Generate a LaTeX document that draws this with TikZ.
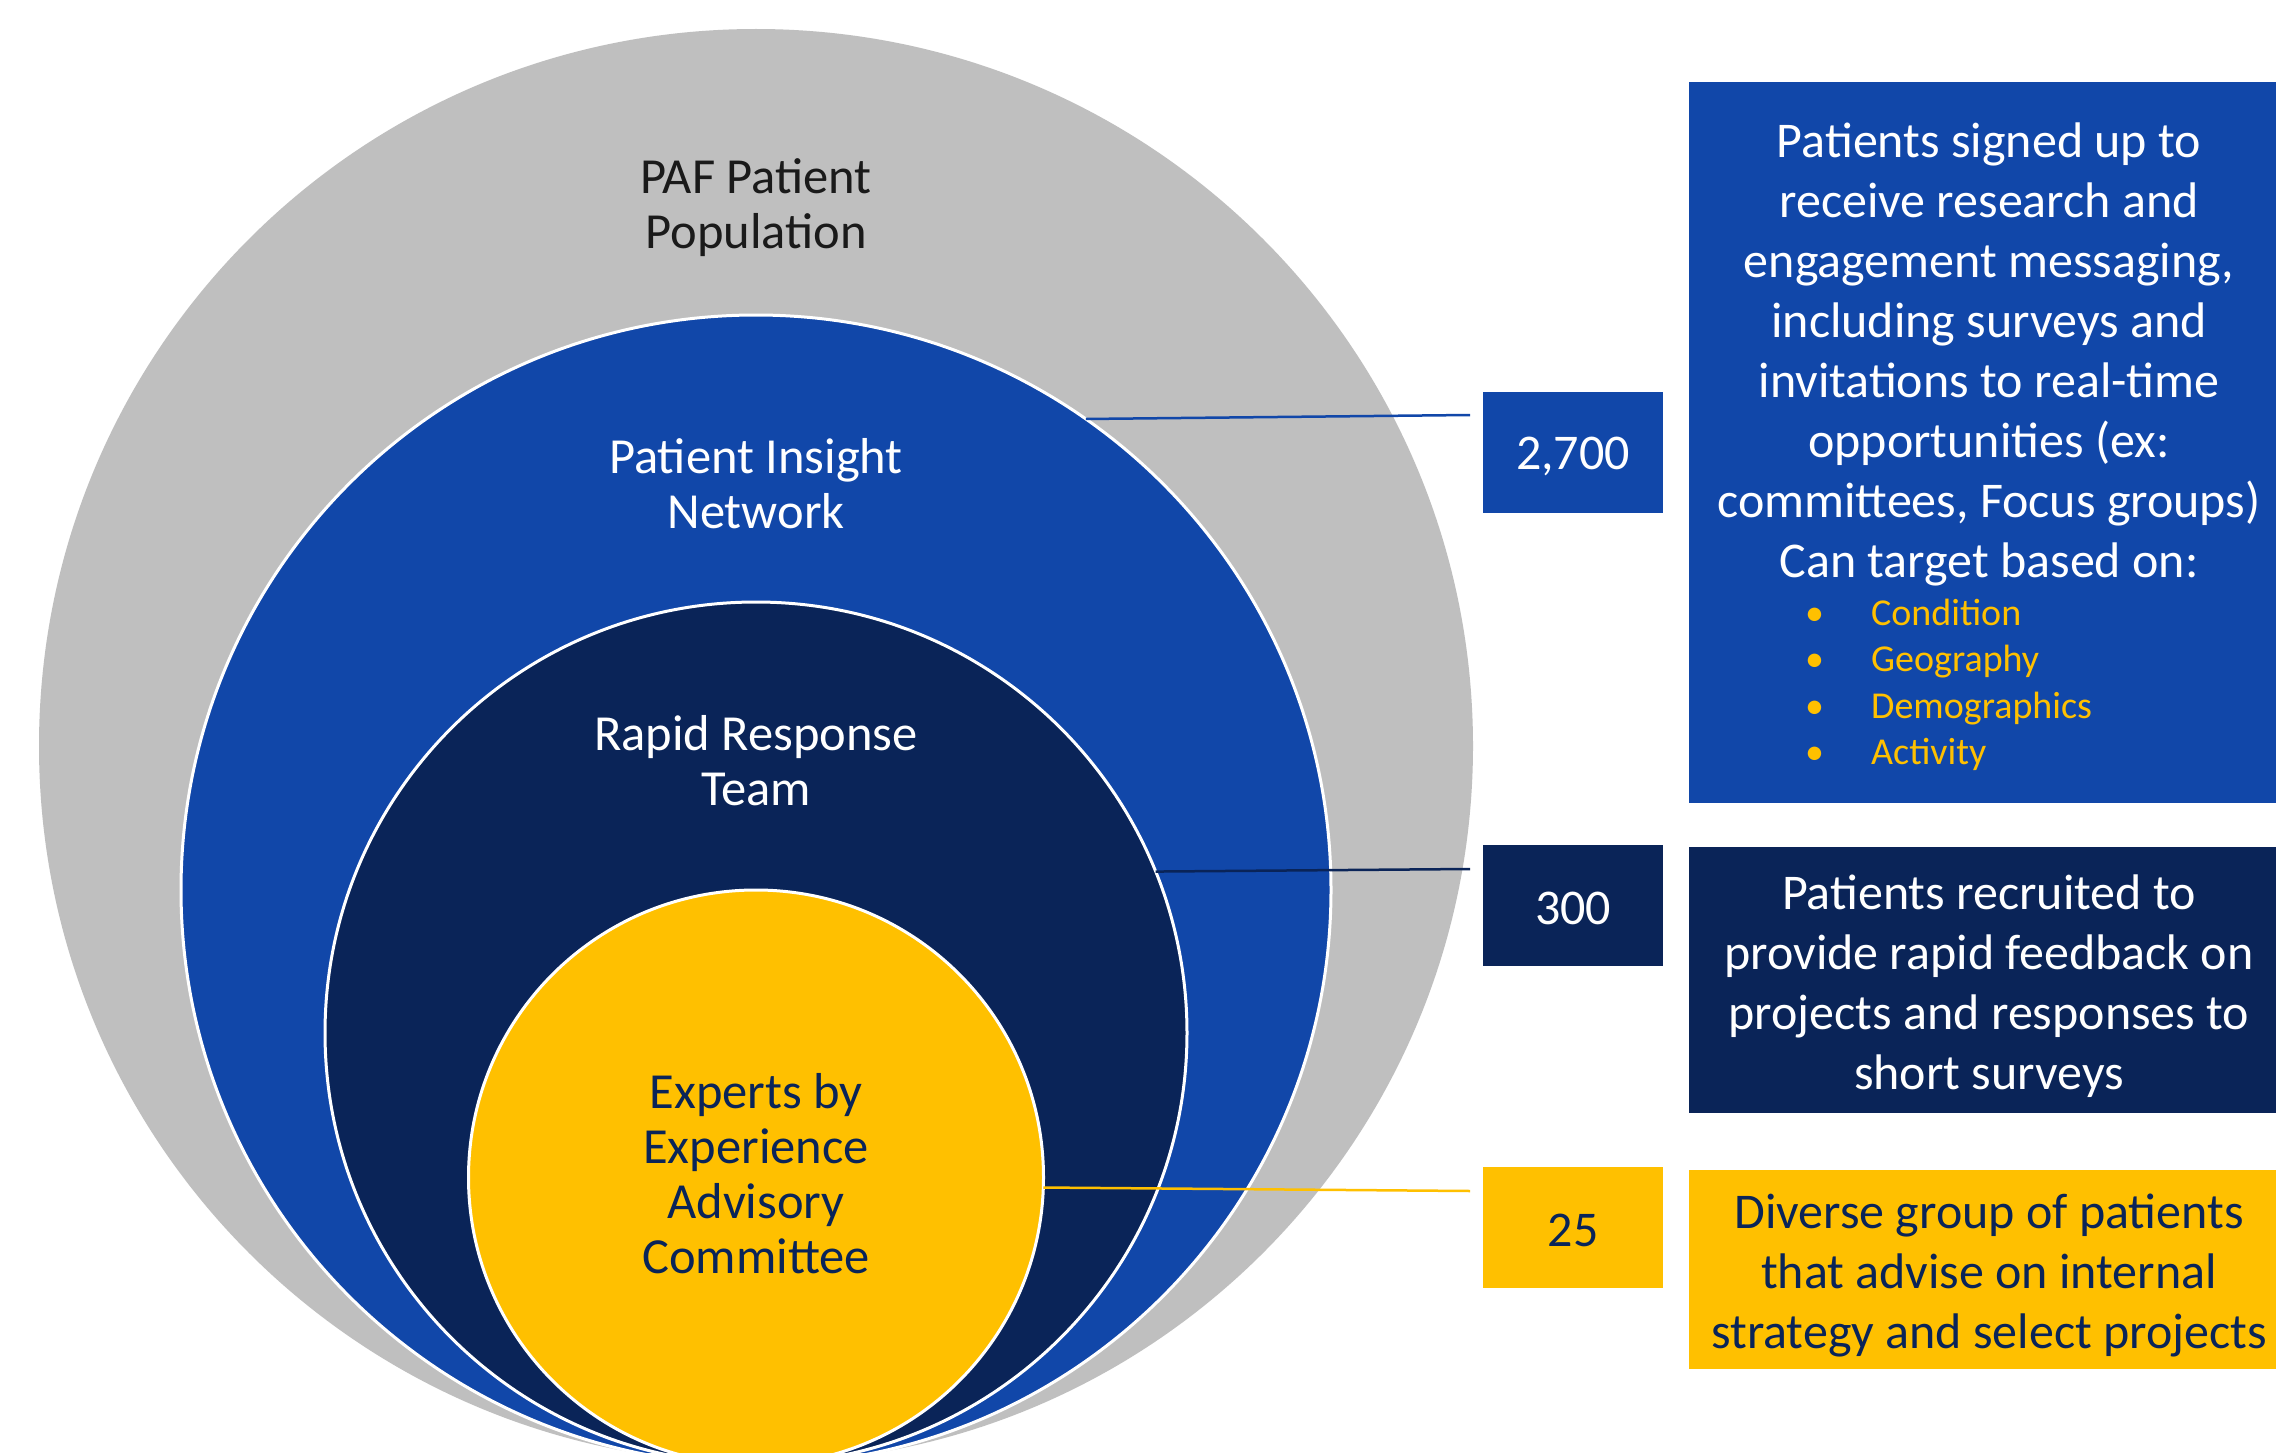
\documentclass[tikz,border=0pt]{standalone}
\usepackage{fontspec}
\setmainfont{Carlito}
\definecolor{popgray}{HTML}{BFBFBF}
\definecolor{netblue}{HTML}{1147A9}
\definecolor{teamnavy}{HTML}{0A2458}
\definecolor{advgold}{HTML}{FFC000}
\definecolor{inkdark}{HTML}{1A1A1A}
\begin{document}
\begin{tikzpicture}[x=1pt,y=-1pt,
  ring/.style={circle, inner sep=0pt, outer sep=0pt, draw=white, line width=3pt},
  countbox/.style={rectangle, inner sep=0pt, outer sep=0pt, minimum width=180pt,
    minimum height=121pt},
  counttext/.style={inner sep=0pt, font=\fontsize{50}{60}\selectfont},
  infobox/.style={rectangle, inner sep=0pt, outer sep=0pt, anchor=north west,
    minimum width=620pt},
  lead/.style={line width=2.5pt},
  ringlabel/.style={align=center, inner sep=0pt, font=\fontsize{50.5}{55}\selectfont},
  infotext/.style={align=center, inner sep=0pt, font=\fontsize{50}{60}\selectfont},
  bullets/.style={align=left, inner sep=0pt, anchor=west, text=advgold,
    font=\fontsize{38}{46.5}\selectfont}
]
\clip (0,0) rectangle (2276,1453);
\fill[white] (0,0) rectangle (2276,1453);

% nested population circles, all touching at the bottom
\node[ring, fill=popgray, draw=none, minimum size=1434pt] (pop) at (756,746) {};
\node[ring, fill=netblue, minimum size=1150pt] (net) at (756,890) {};
\node[ring, fill=teamnavy, minimum size=862pt] (team) at (756,1033) {};
\node[ring, fill=advgold, minimum size=575pt] (adv) at (756,1177.5) {};

\node[ringlabel, text=inkdark] (popL) at (756,208) {PAF Patient\\Population};
\node[ringlabel, text=white] (netL) at (756,484) {Patient Insight\\Network};
\node[ringlabel, text=white] (teamL) at (756,761) {Rapid Response\\Team};
\node[ringlabel, text=teamnavy] (advL) at (756,1174) {Experts by\\Experience\\Advisory\\Committee};

% member counts
\node[countbox, fill=netblue] (n1) at (1573,452) {};
\node[countbox, fill=teamnavy] (n2) at (1573,905) {};
\node[countbox, fill=advgold] (n3) at (1573,1227) {};
\node[counttext, text=white] (n1t) at (1573,456) {2,700};
\node[counttext, text=white] (n2t) at (1573,908) {300};
\node[counttext, text=teamnavy] (n3t) at (1573,1230) {25};

% leader lines from each circle to its count
\coordinate (e1) at (1470,415);
\coordinate (e2) at (1470,869);
\coordinate (e3) at (1470,1191);
\draw[lead, netblue] (net.55) -- (e1);
\draw[lead, teamnavy] (team.22) -- (e2);
\draw[lead, advgold] (adv.-2) -- (e3);

% descriptions
\node[infobox, fill=netblue, minimum height=721pt] (d1) at (1689,82) {};
\node[infobox, fill=teamnavy, minimum height=266pt] (d2) at (1689,847) {};
\node[infobox, fill=advgold, minimum height=199pt] (d3) at (1689,1170) {};

\node[infotext, text=white] (d1t) at (1989,354) {Patients signed up to\\receive research and\\engagement messaging,\\including surveys and\\invitations to real-time\\opportunities (ex:\\committees, Focus groups)\\Can target based on:};
\node[bullets] (d1b) at (1805,685) {\makebox[66pt][l]{•}Condition\\\makebox[66pt][l]{•}Geography\\\makebox[66pt][l]{•}Demographics\\\makebox[66pt][l]{•}Activity};
\node[infotext, text=white] (d2t) at (1989,986) {Patients recruited to\\provide rapid feedback on\\projects and responses to\\short surveys};
\node[infotext, text=teamnavy] (d3t) at (1989,1275) {Diverse group of patients\\that advise on internal\\strategy and select projects};
\end{tikzpicture}
\end{document}
